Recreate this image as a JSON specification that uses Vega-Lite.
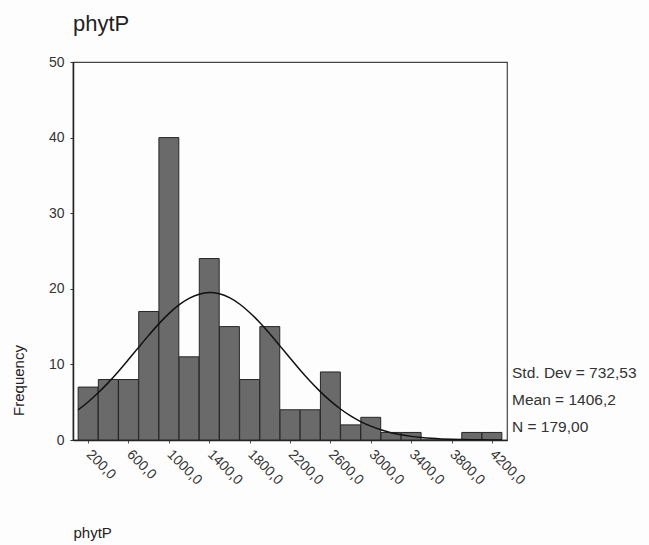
{
  "$schema": "https://vega.github.io/schema/vega-lite/v6.json",
  "width": 434,
  "height": 378,
  "autosize": {"type": "none"},
  "padding": {"left": 73, "top": 62, "right": 142, "bottom": 105},
  "background": "#fdfdfd",
  "config": {
    "font": "Liberation Sans",
    "view": {"stroke": "#444", "strokeWidth": 1.2}
  },
  "title": {
    "text": "phytP",
    "anchor": "start",
    "frame": "group",
    "fontSize": 22,
    "fontWeight": "normal",
    "color": "#222",
    "offset": 19
  },
  "datasets": {
    "bars": [
      {"mid": 200, "count": 7}, {"mid": 400, "count": 8}, {"mid": 600, "count": 8},
      {"mid": 800, "count": 17}, {"mid": 1000, "count": 40}, {"mid": 1200, "count": 11},
      {"mid": 1400, "count": 24}, {"mid": 1600, "count": 15}, {"mid": 1800, "count": 8},
      {"mid": 2000, "count": 15}, {"mid": 2200, "count": 4}, {"mid": 2400, "count": 4},
      {"mid": 2600, "count": 9}, {"mid": 2800, "count": 2}, {"mid": 3000, "count": 3},
      {"mid": 3200, "count": 1}, {"mid": 3400, "count": 1}, {"mid": 3600, "count": 0},
      {"mid": 3800, "count": 0}, {"mid": 4000, "count": 1}, {"mid": 4200, "count": 1}
    ],
    "curve": [
      {"x": 100, "y": 3.98}, {"x": 200, "y": 5.03}, {"x": 300, "y": 6.24}, {"x": 400, "y": 7.59},
      {"x": 500, "y": 9.07}, {"x": 600, "y": 10.64}, {"x": 700, "y": 12.25}, {"x": 800, "y": 13.84},
      {"x": 900, "y": 15.36}, {"x": 1000, "y": 16.72}, {"x": 1100, "y": 17.87}, {"x": 1200, "y": 18.74},
      {"x": 1300, "y": 19.29}, {"x": 1400, "y": 19.5}, {"x": 1500, "y": 19.34}, {"x": 1600, "y": 18.83},
      {"x": 1700, "y": 17.99}, {"x": 1800, "y": 16.87}, {"x": 1900, "y": 15.54}, {"x": 2000, "y": 14.04},
      {"x": 2100, "y": 12.45}, {"x": 2200, "y": 10.84}, {"x": 2300, "y": 9.26}, {"x": 2400, "y": 7.77},
      {"x": 2500, "y": 6.4}, {"x": 2600, "y": 5.17}, {"x": 2700, "y": 4.1}, {"x": 2800, "y": 3.19},
      {"x": 2900, "y": 2.44}, {"x": 3000, "y": 1.83}, {"x": 3100, "y": 1.35}, {"x": 3200, "y": 0.97},
      {"x": 3300, "y": 0.69}, {"x": 3400, "y": 0.48}, {"x": 3500, "y": 0.33}, {"x": 3600, "y": 0.22},
      {"x": 3700, "y": 0.145}, {"x": 3800, "y": 0.094}, {"x": 3900, "y": 0.06}, {"x": 4000, "y": 0.037},
      {"x": 4100, "y": 0.023}, {"x": 4200, "y": 0.014}, {"x": 4300, "y": 0.008}
    ],
    "stats": [
      {"label": "Std. Dev = 732,53", "x": 4300, "y": 8.9},
      {"label": "Mean = 1406,2", "x": 4300, "y": 5.3},
      {"label": "N = 179,00", "x": 4300, "y": 1.7}
    ]
  },
  "layer": [
    {
      "data": {"name": "bars"},
      "mark": {"type": "bar", "width": 19.9, "color": "#6a6a6a", "stroke": "#262626", "strokeWidth": 1},
      "encoding": {
        "x": {
          "field": "mid", "type": "quantitative",
          "scale": {"domain": [100, 4300], "nice": false, "zero": false},
          "axis": {
            "values": [200, 400, 600, 800, 1000, 1200, 1400, 1600, 1800, 2000, 2200, 2400, 2600, 2800, 3000, 3200, 3400, 3600, 3800, 4000, 4200],
            "labelExpr": "(datum.value - 200) % 400 == 0 ? replace(format(datum.value, '.1f'), '.', ',') : ''",
            "labelAngle": 45,
            "labelAlign": "left",
            "labelBaseline": "middle",
            "labelFontSize": 14,
            "labelColor": "#333",
            "labelPadding": 9,
            "labelOverlap": false,
            "labelFlush": false,
            "grid": false,
            "domainColor": "#222",
            "domainWidth": 1.5,
            "tickColor": "#555",
            "tickSize": 3,
            "title": "phytP",
            "titleFontSize": 15,
            "titleFontWeight": "normal",
            "titleColor": "#222",
            "titleAnchor": "start",
            "titleAlign": "left",
            "titleBaseline": "middle",
            "titleX": 0,
            "titleY": 92
          }
        },
        "y": {
          "field": "count", "type": "quantitative",
          "scale": {"domain": [0, 50], "nice": false},
          "axis": {
            "values": [0, 10, 20, 30, 40, 50],
            "labelFontSize": 14,
            "labelColor": "#333",
            "labelPadding": 6,
            "grid": false,
            "domainColor": "#222",
            "domainWidth": 1.5,
            "tickColor": "#333",
            "tickSize": 3,
            "title": "Frequency",
            "titleFontSize": 15,
            "titleFontWeight": "normal",
            "titleColor": "#222",
            "titleAngle": -90,
            "titleAlign": "center",
            "titleBaseline": "middle",
            "titleX": -55,
            "titleY": 318
          }
        }
      }
    },
    {
      "data": {"name": "curve"},
      "mark": {"type": "line", "color": "#111", "strokeWidth": 1.5, "interpolate": "monotone", "clip": true},
      "encoding": {
        "x": {"field": "x", "type": "quantitative"},
        "y": {"field": "y", "type": "quantitative"}
      }
    },
    {
      "data": {"name": "stats"},
      "mark": {"type": "text", "align": "left", "baseline": "middle", "dx": 10, "fontSize": 15.5, "color": "#333"},
      "encoding": {
        "x": {"field": "x", "type": "quantitative"},
        "y": {"field": "y", "type": "quantitative"},
        "text": {"field": "label"}
      }
    }
  ]
}
